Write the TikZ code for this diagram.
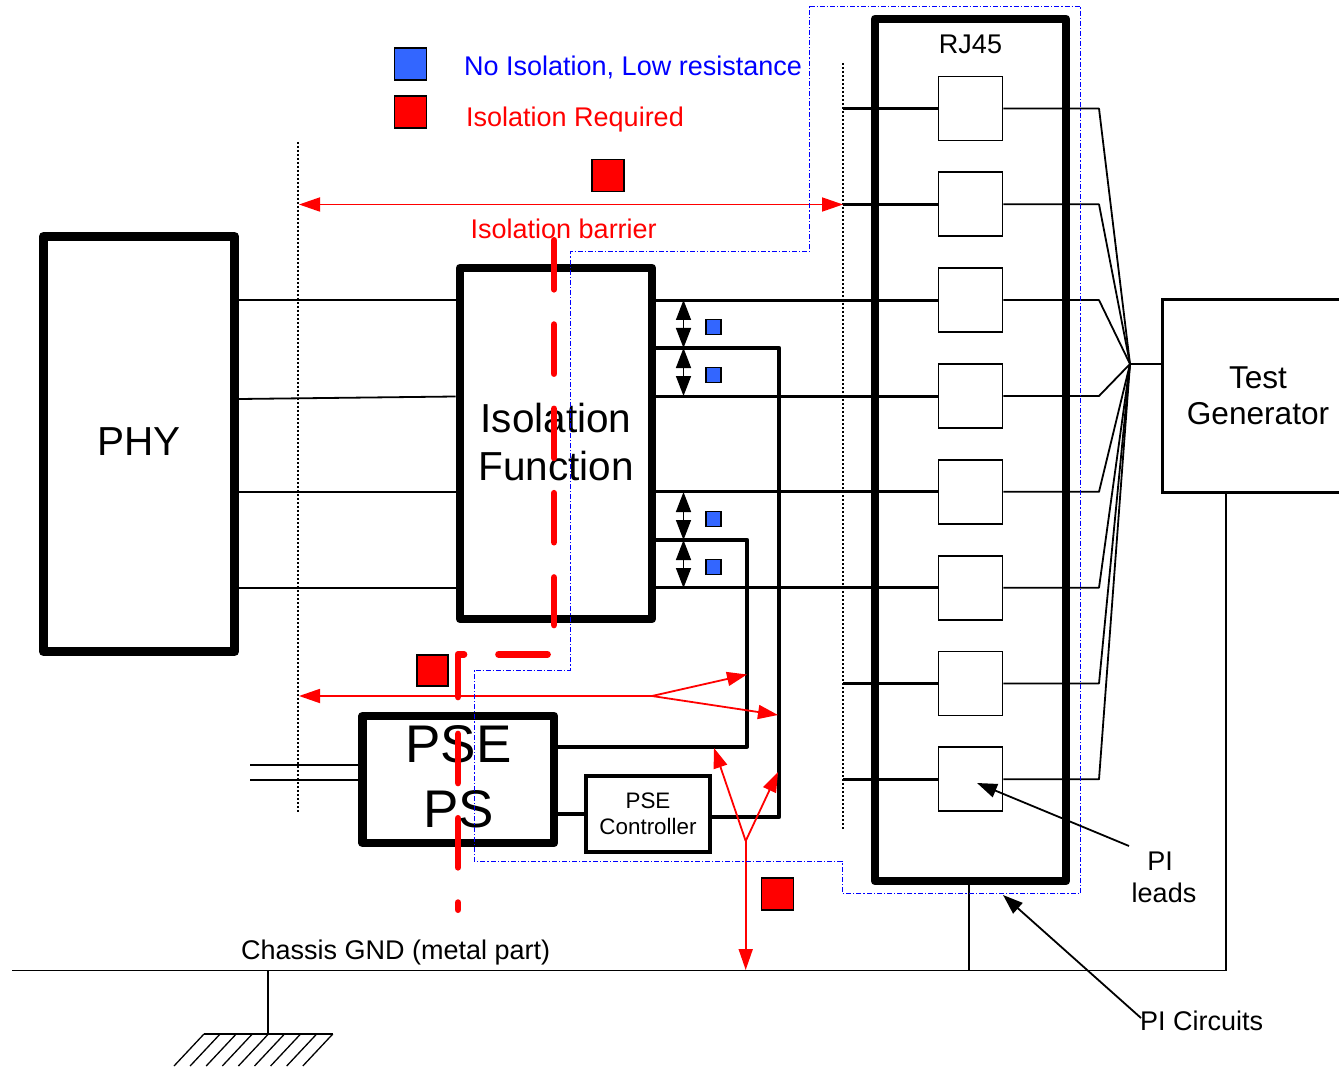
\documentclass[tikz,border=0pt]{standalone}
\usepackage{fontspec}
\setmainfont{Liberation Sans}
\usetikzlibrary{arrows.meta}
\definecolor{lowblue}{RGB}{51,102,255}
\tikzset{
 x=1pt,y=-1pt,
 thickbox/.style={draw,line width=8.8pt,line join=round,inner sep=0pt,align=center},
 sq/.style={draw,line width=1.6pt,minimum size=#1,inner sep=0pt},
 bluesq/.style={sq=#1,fill=lowblue},
 redsq/.style={sq=#1,fill=red},
 port/.style={draw,line width=1.8pt,minimum size=64pt,inner sep=0pt},
 wire/.style={line width=1.8pt},
 bus/.style={line width=3pt},
 power/.style={line width=4pt,line join=round},
 redline/.style={red,line width=1.8pt},
 redtip/.style={-{Triangle[length=20pt,width=14pt]}},
 redtips/.style={{Triangle[length=21pt,width=14pt]}-{Triangle[length=21pt,width=14pt]}},
 redstart/.style={{Triangle[length=21pt,width=14pt]}-},
 barrier/.style={red,line width=6.7pt,line cap=round,dash pattern=on 49pt off 35.3pt},
 barsolid/.style={red,line width=6.7pt,line cap=round,line join=round},
 limit/.style={line width=1.6pt,dash pattern=on 2pt off 2pt},
 boundary/.style={blue,line width=1pt,dash pattern=on 5pt off 2pt on 1.2pt off 2pt},
 txt/.style={inner sep=0pt,font=\fontsize{27}{31}\selectfont},
 big/.style={font=\fontsize{40.5}{48}\selectfont},
 huge/.style={inner sep=0pt,font=\fontsize{53}{65}\selectfont},
 dbl/.style={line width=1.5pt,{Triangle[length=20pt,width=15pt]}-{Triangle[length=20pt,width=15pt]}},
 blacktip/.style={line width=1.8pt,-{Triangle[length=20pt,width=14pt]}},
}
\begin{document}
\begin{tikzpicture}
\useasboundingbox (0,0) rectangle (1339,1067);
\clip (0,0) rectangle (1339,1067);
% nodes
\node[thickbox,big,minimum width=191.6pt,minimum height=415pt,text depth=5pt] (phy) at (139,444) {PHY};
\node[thickbox,big,minimum width=192pt,minimum height=351pt,text depth=4pt] (iso) at (556,443.5) {Isolation\\Function};
\node[thickbox,minimum width=191.5pt,minimum height=127pt] (pse) at (458.25,779.5) {};
\node[huge] (psetxt) at (458.5,744) {PSE};
\node[huge] (pstxt) at (458.5,809) {PS};
\node[draw,line width=4pt,minimum width=124pt,minimum height=76pt,align=center,inner sep=0pt,text depth=1pt,font=\fontsize{22.4}{26}\selectfont] (ctl) at (648,814) {PSE\\Controller};
\node[thickbox,minimum width=191pt,minimum height=862pt] (rj) at (970.5,450) {};
\node[txt] (rjl) at (970.5,44) {RJ45};
\node[draw,line width=3pt,minimum width=192pt,minimum height=192pt,align=center,inner sep=0pt,font=\fontsize{31.6}{36}\selectfont] (tg) at (1258,396) {Test\\Generator};
\foreach \i/\y in {1/108.5,2/204.3,3/300.1,4/396,5/491.8,6/587.7,7/683.5,8/779.3}{
  \node[port] (p\i) at (970.5,\y) {};
  \coordinate (h\i) at (1099,\y);
  \coordinate (l\i) at (843,\y);
}
\coordinate (hub) at (1130,364);
% legend and labels
\node[bluesq=32pt] (lgb) at (410.5,64) {};
\node[redsq=32pt] (lgr) at (410.5,112) {};
\node[txt,anchor=west,text=blue] (lgbt) at (464,67) {No Isolation, Low resistance};
\node[txt,anchor=west,text=red] (lgrt) at (466,120) {Isolation Required};
\node[txt,anchor=west,text=red] (ibar) at (470.5,229) {Isolation barrier};
\node[redsq=32pt] (r1) at (608,175.5) {};
\node[redsq=31pt] (r2) at (432.5,670.5) {};
\node[redsq=32pt] (r3) at (777.5,894) {};
\node[bluesq=15pt] (b1) at (713.5,327) {};
\node[bluesq=15pt] (b2) at (713.5,375) {};
\node[bluesq=15pt] (b3) at (713.5,519) {};
\node[bluesq=15pt] (b4) at (713.5,567) {};
\node[txt,align=center] (leads) at (1164,877.5) {PI\hspace*{8pt}\\[1pt]leads};
\node[txt,anchor=west] (circ) at (1140,1021) {PI Circuits};
\node[txt,anchor=west] (gnd) at (241,953) {Chassis GND (metal part)};
% limits
\coordinate (la) at (298,142); \coordinate (lb) at (298,812);
\coordinate (lc) at (843,63); \coordinate (ld) at (843,830);
\draw[limit] (la)--(lb);
\draw[limit] (lc)--(ld);
% wires phy - iso
\draw[wire] (phy.east|-0,300)--(iso.west|-0,300);
\draw[wire] (phy.east|-0,399)--(iso.west|-0,396.5);
\draw[wire] (phy.east|-0,492)--(iso.west|-0,492);
\draw[wire] (phy.east|-0,588)--(iso.west|-0,588);
% iso to ports
\foreach \i in {3,4,5,6}{\draw[bus] (iso.east|-p\i)--(p\i.west);}
\foreach \i in {1,2,7,8}{\draw[bus] (l\i)--(p\i.west);}
% ports to hub
\foreach \i in {1,...,8}{\draw[wire,line join=round] (p\i.east)--(h\i)--(hub);}
\draw[wire] (hub)--(tg.west|-hub);
% power
\draw[power] (iso.east|-0,348)-|(779.3,817)--(ctl.east|-0,817);
\draw[power] (iso.east|-0,540)-|(747.3,746.5)--(pse.east|-0,746.5);
\draw[power] (pse.east|-0,814)--(ctl.west|-0,814);
\coordinate (ina) at (250,765); \coordinate (inb) at (250,780);
\draw[wire] (ina)--(pse.west|-ina);
\draw[wire] (inb)--(pse.west|-inb);
% double arrows
\foreach \a/\b in {300/348,348/396,492/540,540/588}{
  \coordinate (ua) at (683.5,\a); \coordinate (ub) at (683.5,\b);
  \draw[dbl] (ua)--(ub);
}
% ground
\coordinate (g0) at (12,970.5); \coordinate (g1) at (1226,970.5); \coordinate (g2) at (268,970.5); \coordinate (g3) at (268,1034);
\coordinate (g4) at (969,970.5);
\draw[wire] (g0)--(g1)--(g1|-tg.south);
\draw[wire] (g4)--(g4|-rj.south);
\draw[wire] (g2)--(g3);
\coordinate (ht) at (204,1034); \coordinate (ht2) at (333,1034);
\draw[wire] (ht)--(ht2);
\foreach \k in {0,...,8}{\draw[line width=1.3pt] (204+16.1*\k,1034)--++(-30,32);}
% PI arrows
\coordinate (pla) at (1129,846); \coordinate (plb) at (977,783);
\draw[blacktip] (pla)--(plb);
\coordinate (pca) at (1141,1018); \coordinate (pcb) at (1003,895);
\draw[blacktip] (pca)--(pcb);
% red arrows
\coordinate (ta) at (299,204.5); \coordinate (tb) at (843,204.5);
\draw[redline,redtips] (ta)--(tb);
\coordinate (ma) at (299,696); \coordinate (mb) at (652,696);
\draw[redline,redstart] (ma)--(mb);
\coordinate (mc) at (747,674.5); \coordinate (md) at (778,715);
\draw[redline,redtip] (mb)--(mc);
\draw[redline,redtip] (mb)--(md);
\coordinate (ba) at (745.7,841); \coordinate (bb) at (745.7,970);
\coordinate (bc) at (714,748); \coordinate (bd) at (778,772);
\draw[redline,redstart] (bb)--(ba);
\draw[redline,redtip] (ba)--(bc);
\draw[redline,redtip] (ba)--(bd);
% blue boundary
\coordinate (e1) at (809.5,6.5);\coordinate (e2) at (1080.7,6.5);\coordinate (e3) at (1080.7,893);\coordinate (e4) at (842,893);
\coordinate (e5) at (842,861);\coordinate (e6) at (474,861);\coordinate (e7) at (474,670);\coordinate (e8) at (570,670);
\coordinate (e9) at (570,252);\coordinate (e10) at (809.5,252);
% isolation barrier
\coordinate (i1) at (554,240.3); \coordinate (i2) at (554,625); \coordinate (i3) at (498.5,654.3); \coordinate (i4) at (547.5,654.3);
\coordinate (i5) at (458,654.3); \coordinate (i6) at (464,654.3); \coordinate (i8) at (458,697); \coordinate (i9) at (458,734); \coordinate (i7) at (458,909.7);
\draw[barrier] (i1)--(i2);
\draw[barsolid] (i3)--(i4);
\draw[barsolid] (i6)--(i5)--(i8);
\draw[barrier] (i9)--(i7);
\draw[boundary] (e1)--(e2)--(e3)--(e4)--(e5)--(e6)--(e7)--(e8)--(e9)--(e10)--cycle;
\end{tikzpicture}
\end{document}
